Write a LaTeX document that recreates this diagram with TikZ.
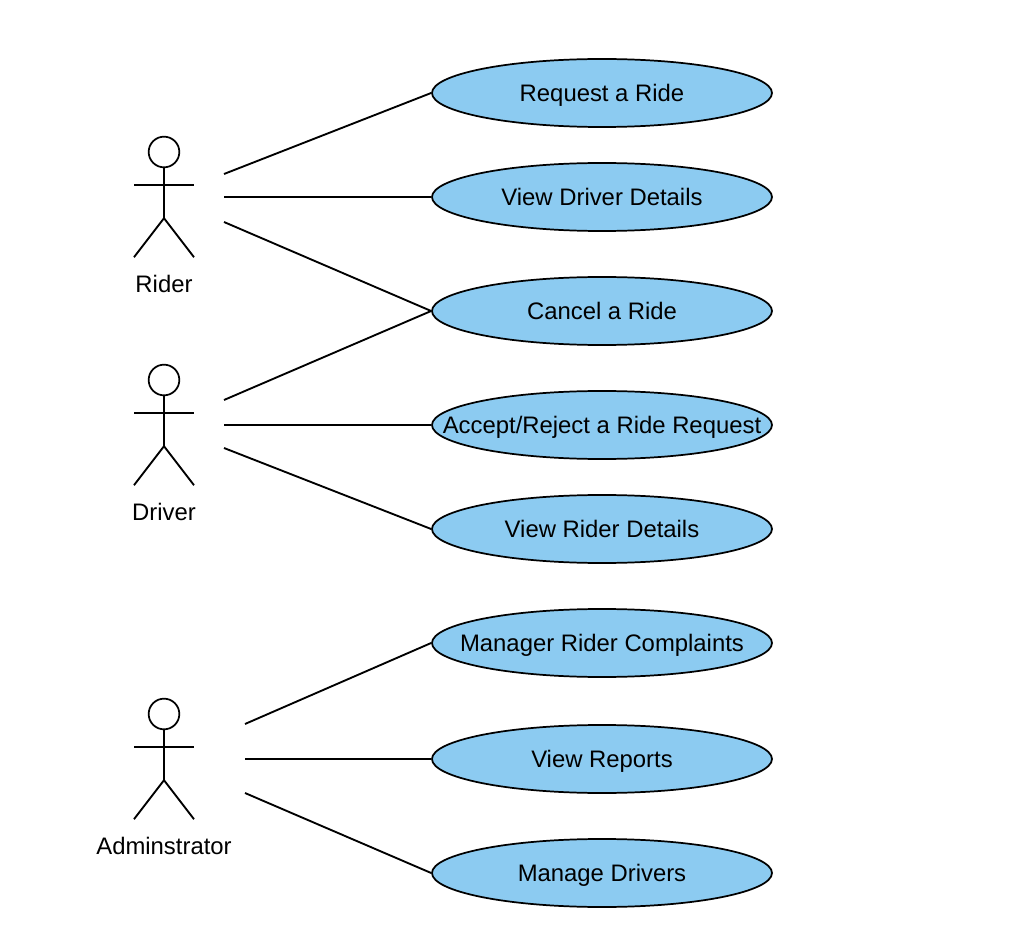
\documentclass[tikz,border=0pt]{standalone}
\usepackage{fontspec}
\setmainfont{Liberation Sans}
\usepackage{tikz}
\usetikzlibrary{positioning,shapes.geometric}
\definecolor{casefill}{HTML}{8CCBF1}
\tikzset{
  usecase/.style={ellipse,draw=black,fill=casefill,line width=1.3pt,minimum width=255pt,minimum height=51pt,inner xsep=-60pt,inner ysep=0pt,font=\fontsize{17.9}{21}\selectfont,text height=16.5pt,text depth=3.8pt},
  link/.style={draw=black,line width=1.4pt},
  actor/.style={font=\fontsize{17.9}{21}\selectfont,inner sep=0pt,text height=16.5pt,text depth=3.8pt},
  head/.style={circle,draw=black,line width=1.3pt,minimum size=23pt,inner sep=0pt},
}
% stick figure: name, head centre
\newcommand{\stickman}[2]{
  \node[head] (#1head) at (#2) {};
  \draw[link] (#1head.south) -- ++(0,-37.5pt) coordinate (#1hip) -- ++(-22.5pt,-29.25pt);
  \draw[link] (#1hip) -- ++(22.5pt,-29.25pt);
  \draw[link] ([yshift=-12.75pt]#1head.south) ++(-22.5pt,0) -- ++(45pt,0);
}
\begin{document}
\begin{tikzpicture}[x=0.75pt,y=-0.75pt]
  \useasboundingbox (0,0) rectangle (1018,952);
  % use cases
  \node[usecase] (request) at (602,93) {Request a Ride};
  \node[usecase] (driverinfo) at (602,197) {View Driver Details};
  \node[usecase] (cancel) at (602,311) {Cancel a Ride};
  \node[usecase] (accept) at (602,425) {Accept/Reject a Ride Request};
  \node[usecase] (riderinfo) at (602,529) {View Rider Details};
  \node[usecase] (complaints) at (602,643) {Manager Rider Complaints};
  \node[usecase] (reports) at (602,759) {View Reports};
  \node[usecase] (drivers) at (602,873) {Manage Drivers};
  % actors
  \stickman{rider}{164,152}
  \stickman{driver}{164,380}
  \stickman{admin}{164,714}
  \node[actor] (ridertxt) at (164,284) {Rider};
  \node[actor] (drivertxt) at (164,512) {Driver};
  \node[actor] (admintxt) at (164,846) {Adminstrator};
  % free ends next to the actors
  \coordinate (r1) at (224,174); \coordinate (r2) at (224,197); \coordinate (r3) at (224,222);
  \coordinate (d1) at (224,400); \coordinate (d2) at (224,425); \coordinate (d3) at (224,448);
  \coordinate (a1) at (245,724); \coordinate (a2) at (245,759); \coordinate (a3) at (245,793);
  \draw[link] (r1) -- (request.west); \draw[link] (r2) -- (driverinfo.west); \draw[link] (r3) -- (cancel.west);
  \draw[link] (d1) -- (cancel.west); \draw[link] (d2) -- (accept.west); \draw[link] (d3) -- (riderinfo.west);
  \draw[link] (a1) -- (complaints.west); \draw[link] (a2) -- (reports.west); \draw[link] (a3) -- (drivers.west);
\end{tikzpicture}
\end{document}
